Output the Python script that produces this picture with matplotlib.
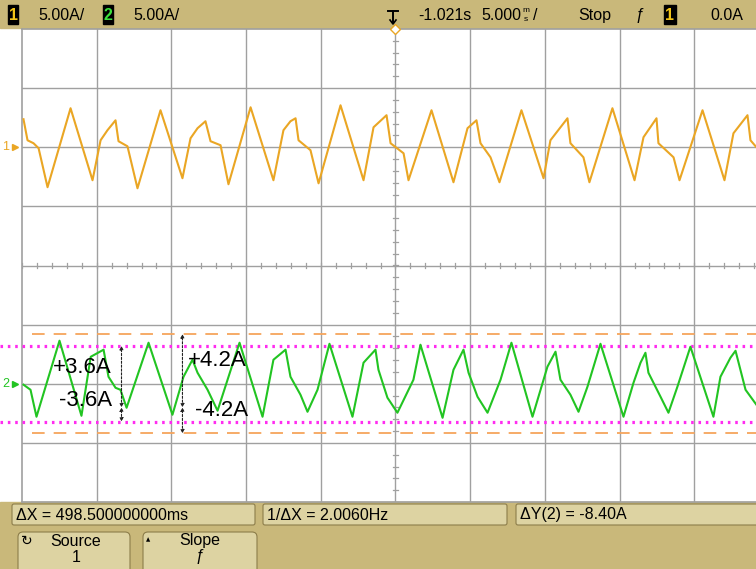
#!/usr/bin/env python
"""Scope screenshot: two current probes, Y cursors on channel 2."""

import numpy as np
import matplotlib.pyplot as plt
from matplotlib.patches import Rectangle, FancyBboxPatch

plt.rcParams['font.family'] = ['Liberation Sans', 'DejaVu Sans']

#+++ Data (time in ms from screen centre, current in A)
ch1_t = [-24.90, -24.63, -24.23, -23.89, -23.29, -21.75, -20.28, -19.74, -19.28, -18.74,
         -18.54, -17.94, -17.27, -15.73, -14.26, -13.72, -13.25, -12.72, -12.38, -11.71,
         -11.18, -9.70, -8.17, -7.50, -7.03, -6.69, -6.49, -5.69, -5.15, -3.68,
         -2.14, -1.47, -0.60, -0.33, 0.54, 0.87, 2.41, 3.88, 4.82, 5.42,
         5.69, 6.36, 6.96, 8.43, 9.91, 10.37, 11.51, 11.71, 12.58, 12.98,
         14.52, 16.00, 16.60, 17.47, 17.60, 18.61, 19.01, 20.55, 22.02, 22.62,
         23.56, 23.76, 24.16]
ch1_i = [2.37, 0.59, 0.34, -0.08, -3.38, 3.30, -2.79, 0.59, 1.44, 2.28,
         0.51, 0.08, -3.47, 3.13, -2.62, 0.76, 1.61, 2.20, 0.51, 0.17,
         -3.13, 3.38, -2.79, 1.44, 2.20, 2.45, 0.59, -0.25, -3.05, 3.55,
         -2.79, 1.69, 2.71, 0.34, -0.51, -2.79, 3.13, -2.96, 1.61, 2.28,
         0.34, -0.85, -2.96, 3.13, -2.62, 0.59, 2.45, 0.34, -0.85, -2.96,
         3.30, -2.79, 0.85, 2.45, 0.34, -0.85, -2.79, 3.13, -2.79, 1.18,
         2.71, 0.59, 0.00]

ch2_t = [-24.90, -24.43, -24.03, -22.49, -21.02, -20.40, -19.54, -19.21, -18.74, -18.41,
         -18.00, -16.53, -14.93, -14.19, -13.59, -13.25, -12.58, -11.91, -10.44, -8.90,
         -8.17, -7.36, -7.03, -6.36, -5.89, -5.22, -4.42, -2.88, -2.14, -1.34,
         -1.14, -0.54, 0.13, 1.20, 1.67, 3.15, 3.88, 4.55, 4.89, 5.49,
         6.16, 7.03, 7.76, 9.17, 10.17, 10.71, 11.04, 11.71, 12.25, 12.85,
         13.72, 15.26, 15.93, 16.40, 16.73, 16.93, 17.74, 18.27, 18.87, 19.74,
         21.28, 21.75, 22.42, 22.76, 23.43, 24.16]
ch2_i = [-0.08, -0.51, -2.79, 3.64, -2.71, 2.28, 2.88, 0.59, -0.34, -0.51,
         -2.03, 3.47, -2.62, 0.59, 2.03, 0.93, -0.51, -2.28, 3.47, -2.79,
         2.03, 2.88, 0.59, -0.93, -2.37, -0.51, 3.38, -2.79, 1.78, 2.88,
         1.18, -1.18, -2.45, 0.34, 3.30, -2.88, 1.18, 2.88, 0.93, -1.10,
         -2.45, 0.34, 3.47, -2.79, 1.44, 2.71, 0.34, -0.93, -2.37, -0.25,
         3.38, -2.79, 0.08, 1.78, 2.62, 0.93, -1.10, -2.45, -0.25, 3.13,
         -2.79, 0.59, 2.20, 2.79, -0.51, -1.78]

ch_scale = [5.0, 5.0]        # A/div
ch_offset = [2.0, -2.0]      # ground marker position, div
time_per_div = 5.0           # ms/div
cursor_a = [4.2, -4.2]       # Y cursors, channel 2
band_a = [3.2, -3.2]         # magenta marker lines, channel 2
band_labels = ["+3.6A", "-3.6A"]
cursor_labels = ["+4.2A", "-4.2A"]

header_left = ["5.00A/", "5.00A/"]
delay_text = "-1.021s"
timebase_text = "5.000"
run_text = "Stop"
trig_level = "0.0A"
readouts = ["\u0394X = 498.500000000ms", "1/\u0394X = 2.0060Hz", "\u0394Y(2) = -8.40A"]
#---

W, H = 756, 569
GRID = '#a0a0a0'
ORANGE = '#eaa624'
GREEN = '#22c422'
TAN = '#c9b87a'
BOX = '#ddd3a2'
EDGE = '#8c7d4a'

fig = plt.figure(figsize=(W / 100, H / 100), dpi=100)

# overlay in pixel coordinates for the instrument chrome
ov = fig.add_axes([0, 0, 1, 1], zorder=0)
ov.set_xlim(0, W)
ov.set_ylim(H, 0)
ov.axis('off')

#+++ Graticule
left, top, bottom = 22, 29, 502
px_per_div = 74.7
ax = fig.add_axes([left / W, (H - bottom) / H, (W - left) / W, (bottom - top) / H], zorder=2)
ax.set_facecolor('none')
x_right = -5 * time_per_div + (W - left) / px_per_div * time_per_div
ax.set_xlim(-5 * time_per_div, x_right)
ax.set_ylim(-4, 4)
ax.set_xticks([])
ax.set_yticks([])
for s in ['left', 'top', 'bottom']:
    ax.spines[s].set_color(GRID)
    ax.spines[s].set_linewidth(1.2)
ax.spines['right'].set_visible(False)
for k in range(-4, 5):
    ax.axvline(k * time_per_div, color=GRID, lw=1.0, zorder=1)
for k in range(-3, 4):
    ax.axhline(k, color=GRID, lw=1.0, zorder=1)
# minor ticks on the centre lines
for t in np.arange(-25, x_right, time_per_div / 5):
    ax.plot([t, t], [-0.05, 0.05], color=GRID, lw=0.9, zorder=1)
for d in np.arange(-4, 4.01, 0.2):
    ax.plot([-0.2, 0.2], [d, d], color=GRID, lw=0.9, zorder=1)
#---

#+++ Traces
ax.plot(ch1_t, np.array(ch1_i) / ch_scale[0] + ch_offset[0], color=ORANGE, lw=1.5, zorder=4)
ax.plot(ch2_t, np.array(ch2_i) / ch_scale[1] + ch_offset[1], color=GREEN, lw=1.5, zorder=4)

for c in cursor_a:
    ax.plot([-24.3, x_right], [c / ch_scale[1] + ch_offset[1]] * 2, color='#f6a55c',
            lw=1.3, dashes=(7, 5), zorder=3)
for b in band_a:
    ax.plot([-0.03, 1], [b / ch_scale[1] + ch_offset[1]] * 2, transform=ax.get_yaxis_transform(),
            color='#ff2cf0', lw=2.3, dashes=(0.8, 1.5), clip_on=False, zorder=3)

# hand-drawn span arrows with their labels
def span_arrow(t, lo, hi):
    mid = ch_offset[1]
    for a, b in [(hi, mid), (mid, lo)]:
        ax.annotate('', xy=(t, a / ch_scale[1] + mid), xytext=(t, b / ch_scale[1] + mid),
                    arrowprops=dict(arrowstyle='<|-|>', lw=0.8, ls=(0, (2, 1.5)), color='#222222',
                                    mutation_scale=5, shrinkA=0, shrinkB=0), zorder=5)

span_arrow(-18.34, band_a[1], band_a[0])
span_arrow(-14.26, cursor_a[1], cursor_a[0])
ax.text(-21.0, -1.73, band_labels[0], fontsize=16, ha='center', va='center', zorder=6)
ax.text(-20.75, -2.28, band_labels[1], fontsize=16, ha='center', va='center', zorder=6)
ax.text(-11.9, -1.61, cursor_labels[0], fontsize=16, ha='center', va='center', zorder=6)
ax.text(-11.65, -2.45, cursor_labels[1], fontsize=16, ha='center', va='center', zorder=6)

# ground markers and trigger position
ytr = ax.get_yaxis_transform()
ax.text(-0.022, ch_offset[0], '1', transform=ytr, color=ORANGE, fontsize=9, ha='center', va='center', clip_on=False)
ax.plot(-0.009, ch_offset[0], marker='>', color=ORANGE, ms=5, transform=ytr, clip_on=False)
ax.text(-0.022, ch_offset[1], '2', transform=ytr, color=GREEN, fontsize=9, ha='center', va='center', clip_on=False)
ax.plot(-0.009, ch_offset[1], marker='>', color=GREEN, ms=5, transform=ytr, clip_on=False)
ax.plot(0, 4, marker='D', mfc='white', mec=ORANGE, ms=5, clip_on=False, zorder=6)
#---

#+++ Top status bar
ov.add_patch(Rectangle((0, 0), W, 28, color=TAN))
fs = 11.5
ov.add_patch(Rectangle((8, 5), 10, 19, color='black'))
ov.text(13, 15, '1', color='#f2c418', fontsize=fs, ha='center', va='center', fontweight='bold')
ov.text(38, 15, header_left[0], fontsize=fs, va='center')
ov.add_patch(Rectangle((103, 5), 10, 19, color='black'))
ov.text(108, 15, '2', color='#3ce03c', fontsize=fs, ha='center', va='center', fontweight='bold')
ov.text(133, 15, header_left[1], fontsize=fs, va='center')
ov.plot([393, 393], [11, 23], color='black', lw=1.4)
ov.plot([388, 398], [11, 11], color='black', lw=1.4)
ov.plot([390, 393, 396], [20, 24, 20], color='black', lw=1.2)
ov.text(418, 15, delay_text, fontsize=fs, va='center')
ov.text(481, 15, timebase_text, fontsize=fs, va='center')
ov.text(526, 10, 'm', fontsize=6, ha='center', va='center')
ov.text(526, 19, 's', fontsize=6, ha='center', va='center')
ov.text(533, 15, '/', fontsize=fs, va='center')
ov.text(578, 15, run_text, fontsize=fs, va='center')
ov.text(640, 15, '\u0192', fontsize=fs, ha='center', va='center')
ov.add_patch(Rectangle((664, 5), 12, 19, color='black'))
ov.text(670, 15, '1', color='#f2c418', fontsize=fs, ha='center', va='center', fontweight='bold')
ov.text(710, 15, trig_level, fontsize=fs, va='center')
#---

#+++ Bottom readouts and softkeys
ov.add_patch(Rectangle((0, bottom), W, H - bottom, color=TAN))
for (x0, x1), txt in zip([(12, 255), (263, 507), (516, 762)], readouts):
    ov.add_patch(FancyBboxPatch((x0, 504), x1 - x0, 21, boxstyle='round,pad=0,rounding_size=2',
                                fc=BOX, ec=EDGE, lw=0.8))
    ov.text(x0 + 4, 515, txt, fontsize=fs, va='center')
for x0, x1 in [(18, 130), (143, 257)]:
    ov.add_patch(FancyBboxPatch((x0, 532), x1 - x0, 45, boxstyle='round,pad=0,rounding_size=5',
                                fc=BOX, ec=EDGE, lw=0.8))
ov.text(27, 541, '\u21bb', fontsize=10, ha='center', va='center', family='DejaVu Sans')
ov.text(76, 541, 'Source', fontsize=fs, ha='center', va='center')
ov.text(76, 557, '1', fontsize=fs, ha='center', va='center')
ov.text(148, 540, '\u25b2', fontsize=4, ha='center', va='center', family='DejaVu Sans')
ov.text(200, 541, 'Slope', fontsize=fs, ha='center', va='center')
ov.text(200, 557, '\u0192', fontsize=fs, ha='center', va='center')
#---

fig.savefig('out.png', dpi=100)
